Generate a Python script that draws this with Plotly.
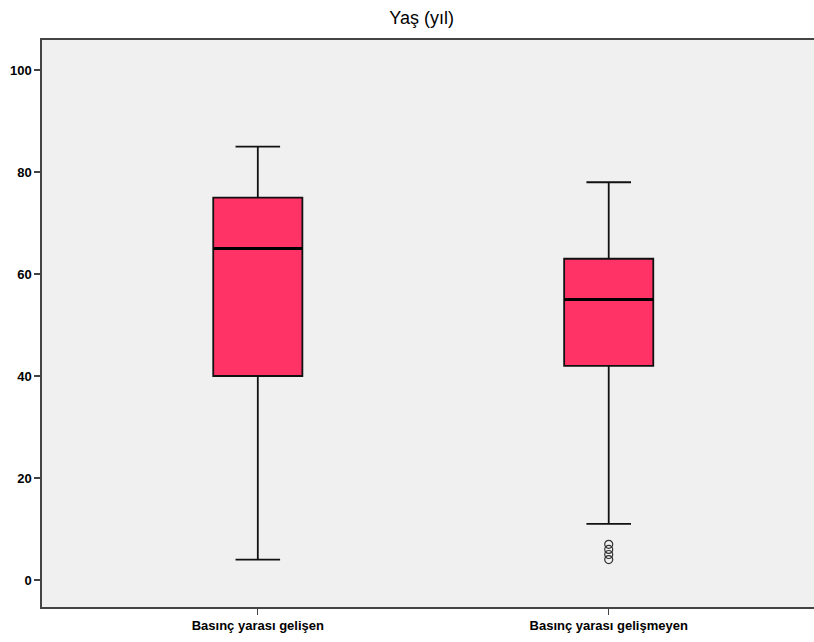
import plotly.graph_objects as go

# Age (years) summary statistics per group
categories = ["Basınç yarası gelişen", "Basınç yarası gelişmeyen"]
lower_whisker = [4, 11]
q1 = [40, 42]
median = [65, 55]
q3 = [75, 63]
upper_whisker = [85, 78]
outliers_group2 = [4, 5, 6, 7]

positions = list(range(len(categories)))
box_width = 0.254
box_color = "#FF3366"

fig = go.Figure()

fig.add_trace(go.Box(
    x=positions,
    q1=q1, median=median, q3=q3,
    lowerfence=lower_whisker, upperfence=upper_whisker,
    width=box_width,
    whiskerwidth=0.5,
    fillcolor=box_color,
    line=dict(color="#111111", width=1.8),
    boxpoints=False,
    showlegend=False,
    hoverinfo="skip",
))

# Thicker median bars drawn over each box
for pos, med in zip(positions, median):
    fig.add_trace(go.Scatter(
        x=[pos - box_width / 2, pos + box_width / 2],
        y=[med, med],
        mode="lines",
        line=dict(color="#000000", width=3),
        showlegend=False,
        hoverinfo="skip",
    ))

# Outliers of the second group
fig.add_trace(go.Scatter(
    x=[positions[1]] * len(outliers_group2),
    y=outliers_group2,
    mode="markers",
    marker=dict(symbol="circle-open", size=8, color="#333333",
                line=dict(width=1.2, color="#333333")),
    showlegend=False,
    hoverinfo="skip",
))

fig.update_layout(
    width=814, height=642,
    margin=dict(l=42, r=0, t=40, b=35),
    paper_bgcolor="white",
    plot_bgcolor="#F0F0F0",
    title=dict(text="Yaş (yıl)", x=0.518, xref="container", xanchor="center",
               y=0.972, yref="container", yanchor="middle",
               font=dict(family="Liberation Sans, Arial", size=18, color="#000000")),
    xaxis=dict(
        range=[-0.615, 1.585],
        tickvals=positions, ticktext=categories,
        ticks="outside", ticklen=6, tickwidth=1.2, tickcolor="#444444",
        showline=True, linecolor="#444444", linewidth=1.5, mirror=True,
        showgrid=False, zeroline=False,
        tickfont=dict(family="Liberation Sans, Arial", size=13, color="#000000",
                      weight="bold"),
    ),
    yaxis=dict(
        range=[-5.3, 105.9],
        tickvals=[0, 20, 40, 60, 80, 100],
        ticks="outside", ticklen=6, tickwidth=1.5, tickcolor="#444444",
        showline=True, linecolor="#444444", linewidth=1.5,
        showgrid=False, zeroline=False,
        tickfont=dict(family="Liberation Sans, Arial", size=13, color="#000000",
                      weight="bold"),
    ),
)

fig.write_html("out.html")
